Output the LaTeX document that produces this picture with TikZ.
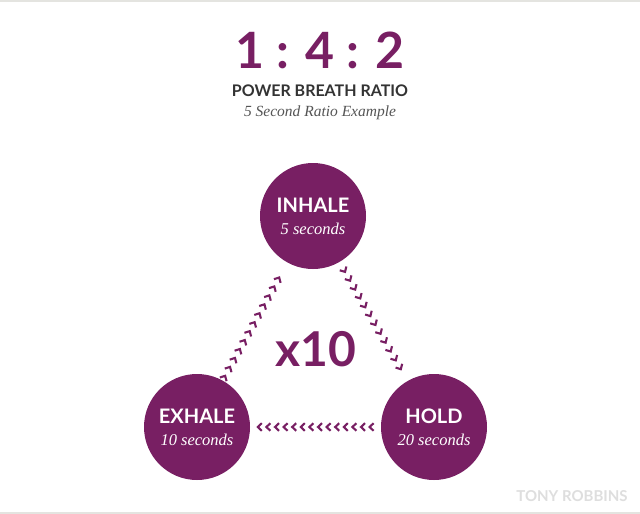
\documentclass[tikz,border=0pt]{standalone}
\usepackage{fontspec}
\setmainfont{Lato}
\newfontfamily\serifit{Liberation Serif}
\usetikzlibrary{decorations.markings}
\definecolor{plum}{HTML}{781F63}
\definecolor{darktext}{HTML}{333333}
\definecolor{subtext}{HTML}{555555}
\definecolor{brand}{HTML}{DEDEDE}
\definecolor{rule}{HTML}{E4E4E0}
\newcommand{\phasename}[1]{{\fontsize{20}{22}\selectfont\bfseries #1}}
\newcommand{\phasetime}[1]{{\fontsize{16.5}{22}\selectfont\serifit\itshape #1}}
\tikzset{
  phase/.style={circle, fill=plum, minimum size=106pt, inner sep=0pt, text=white, align=center,
    font=\fontsize{20}{22}\selectfont},
  chevline/.style n args={3}{decoration={markings,
      mark=between positions #1 and #2 step #3 with {\draw[plum, line width=2.1pt, line cap=butt, line join=miter] (-3.6pt,-3.8pt) -- (0.4pt,0pt) -- (-3.6pt,3.8pt);}},
      decorate},
}
\begin{document}
\begin{tikzpicture}[x=1pt,y=-1pt]
\useasboundingbox (0,0) rectangle (640,514);
\fill[white] (0,0) rectangle (640,514);
\fill[rule] (0,0) rectangle (640,2);
\fill[rule] (0,512) rectangle (640,514);
\node[text=plum, font=\fontsize{50}{50}\selectfont\bfseries] (ratio) at (320,50) {1 : 4 : 2};
\node[text=darktext, font=\fontsize{16}{16}\selectfont\bfseries] (title) at (320,91) {POWER BREATH RATIO};
\node[text=subtext, font=\fontsize{15.5}{16}\selectfont\serifit\itshape] (sub) at (320,113) {5 Second Ratio Example};
\node[phase] (inhale) at (313,216) {\phasename{INHALE}\\[0pt]\phasetime{5 seconds}};
\node[phase] (exhale) at (197,427) {\phasename{EXHALE}\\[0pt]\phasetime{10 seconds}};
\node[phase] (hold) at (434,427) {\phasename{HOLD}\\[0pt]\phasetime{20 seconds}};
\node[text=plum, font=\fontsize{48}{48}\selectfont\bfseries] (reps) at (316,349) {x10};
\node[text=brand, font=\fontsize{15}{15}\selectfont\bfseries] (brandname) at (572,496) {TONY ROBBINS};
\path[chevline={58pt}{180pt}{10.2pt}] (exhale.center) -- (inhale.center);
\path[chevline={64pt}{182pt}{10.2pt}] (inhale.center) -- (hold.center);
\path[chevline={64pt}{178pt}{8.6pt}] (hold.center) -- (exhale.center);
\end{tikzpicture}
\end{document}
